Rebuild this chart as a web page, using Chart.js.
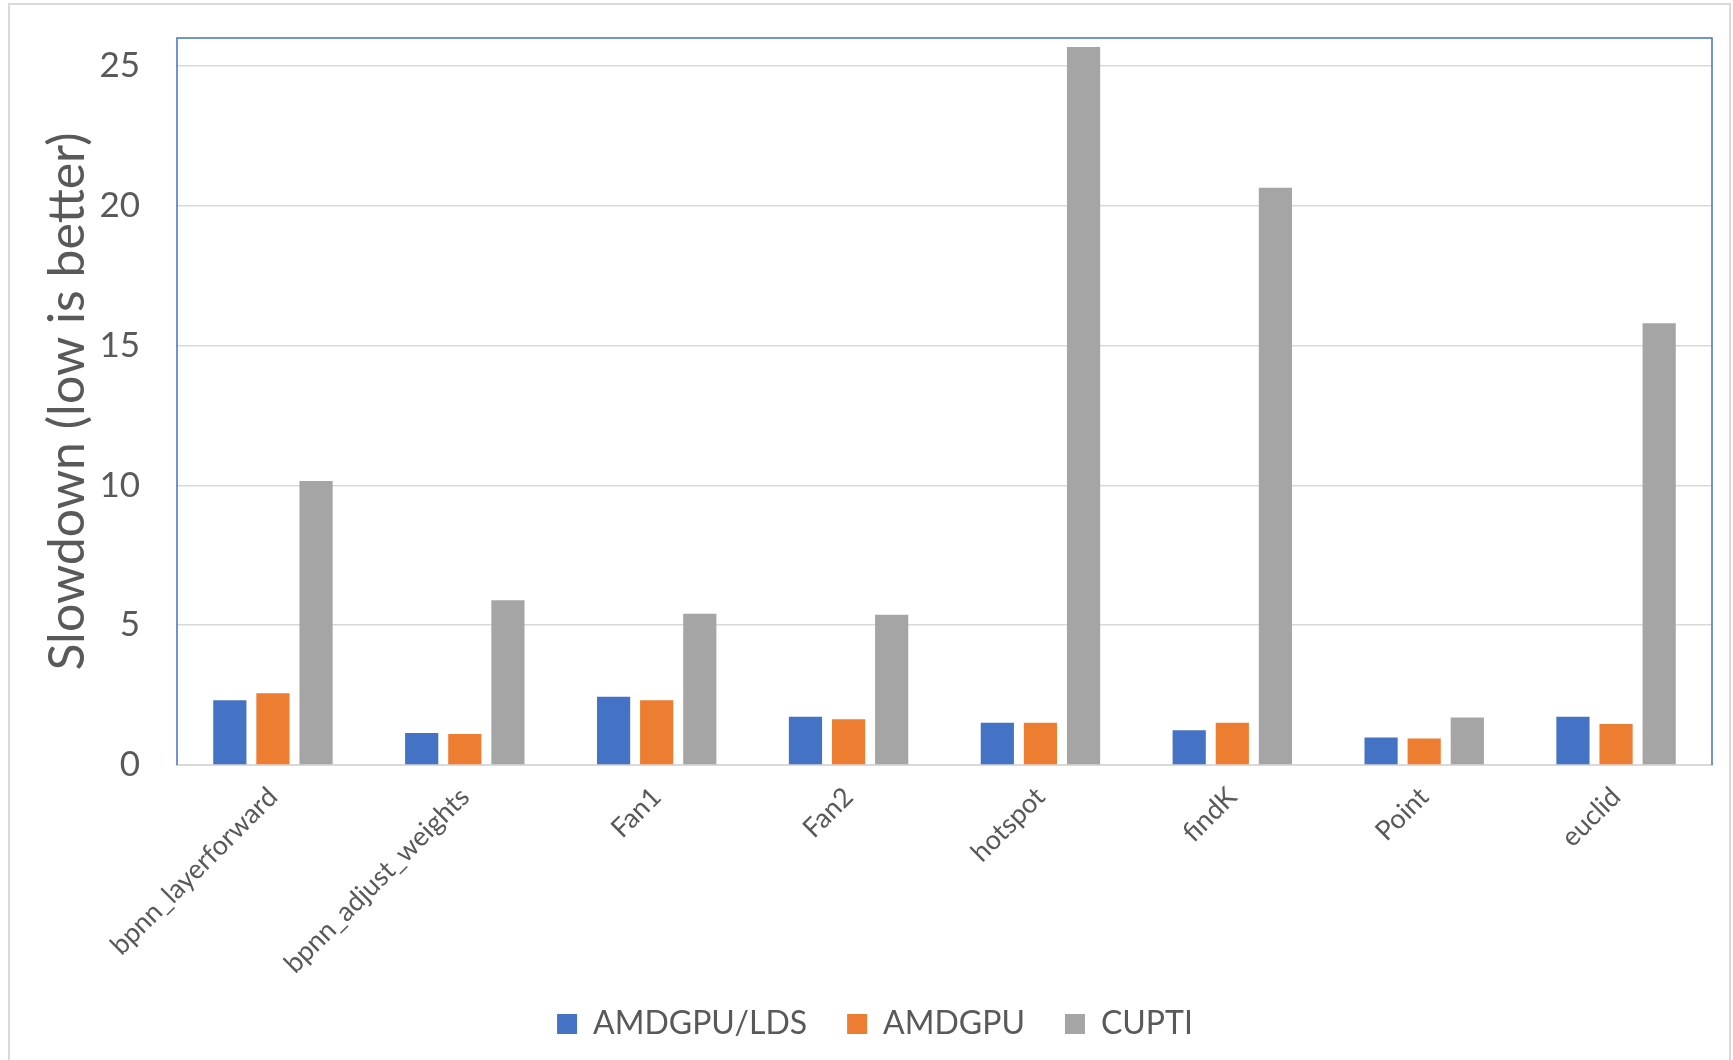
<!DOCTYPE html>
<html>
<head>
<meta charset="utf-8">
<script src="https://cdn.jsdelivr.net/npm/chart.js@4"></script>
<style>
  html, body { margin: 0; padding: 0; background: #fff; }
  #wrap { width: 1733px; height: 1060px; }
</style>
</head>
<body>
<div id="wrap"><canvas id="grafico"></canvas></div>
<script>
const categories = ['bpnn_layerforward', 'bpnn_adjust_weights', 'Fan1', 'Fan2', 'hotspot', 'findK', 'Point', 'euclid'];
const ldsValues = [2.32, 1.14, 2.44, 1.73, 1.51, 1.24, 0.98, 1.73];
const amdValues = [2.57, 1.11, 2.32, 1.64, 1.51, 1.51, 0.95, 1.47];
const cuptiValues = [10.16, 5.89, 5.41, 5.37, 25.68, 20.64, 1.70, 15.80];
const yTicks = [0, 5, 10, 15, 20, 25];

const textColor = '#595959';
Chart.defaults.font.family = 'Lato, "Open Sans", sans-serif';
Chart.defaults.color = textColor;

// marco exterior gris y borde azul del area de trazado
const marcos = {
  id: 'marcos',
  beforeDraw(chart) {
    const c = chart.ctx;
    c.save();
    c.fillStyle = '#fff';
    c.fillRect(0, 0, chart.width, chart.height);
    c.strokeStyle = '#d9d9d9';
    c.lineWidth = 2;
    c.strokeRect(9, 4, chart.width - 12, chart.height + 10);
    c.restore();
  },
  afterDraw(chart) {
    const a = chart.chartArea;
    const c = chart.ctx;
    c.save();
    c.strokeStyle = '#4472c4';
    c.lineWidth = 1.5;
    c.beginPath();
    c.moveTo(a.left, a.bottom);
    c.lineTo(a.left, a.top);
    c.lineTo(a.right, a.top);
    c.lineTo(a.right, a.bottom);
    c.stroke();
    c.restore();
  }
};

const ctx = document.getElementById('grafico').getContext('2d');
new Chart(ctx, {
  type: 'bar',
  data: {
    labels: categories,
    datasets: [
      { label: 'AMDGPU/LDS', data: ldsValues, backgroundColor: '#4472c4' },
      { label: 'AMDGPU', data: amdValues, backgroundColor: '#ed7d31' },
      { label: 'CUPTI', data: cuptiValues, backgroundColor: '#a5a5a5' }
    ]
  },
  options: {
    responsive: true,
    maintainAspectRatio: false,
    animation: false,
    devicePixelRatio: 1,
    layout: { padding: { left: 38, right: 21, top: 38, bottom: 10 } },
    datasets: { bar: { categoryPercentage: 0.674, barPercentage: 0.77 } },
    scales: {
      x: {
        grid: { display: false, drawTicks: false },
        border: { display: true, color: '#d9d9d9', width: 2 },
        ticks: {
          font: { size: 27 },
          color: textColor,
          minRotation: 45,
          maxRotation: 45,
          padding: 16
        },
        afterFit: scale => {
          scale.height = 203;
          // las etiquetas largas pasan por debajo de la caja del eje: sin recorte
          scale._computeLabelArea = () => undefined;
        }
      },
      y: {
        min: 0,
        max: 26,
        border: { display: false },
        grid: { color: '#d9d9d9', lineWidth: 1.5, drawTicks: true, tickLength: 33, tickColor: 'rgba(0,0,0,0)' },
        ticks: { stepSize: 5, padding: 4, font: { size: 35 }, color: textColor },
        afterBuildTicks: scale => {
          scale.ticks = yTicks.map(v => ({ value: v }));
        },
        title: {
          display: true,
          text: 'Slowdown (low is better)',
          font: { size: 50 },
          color: textColor,
          padding: { top: 0, bottom: 0 }
        },
        afterFit: scale => { scale.width = 139; }
      }
    },
    plugins: {
      legend: {
        position: 'bottom',
        labels: {
          boxWidth: 20,
          boxHeight: 20,
          padding: 40,
          font: { size: 32 },
          color: textColor
        }
      },
      tooltip: { enabled: false }
    }
  },
  plugins: [marcos]
});
</script>
</body>
</html>
